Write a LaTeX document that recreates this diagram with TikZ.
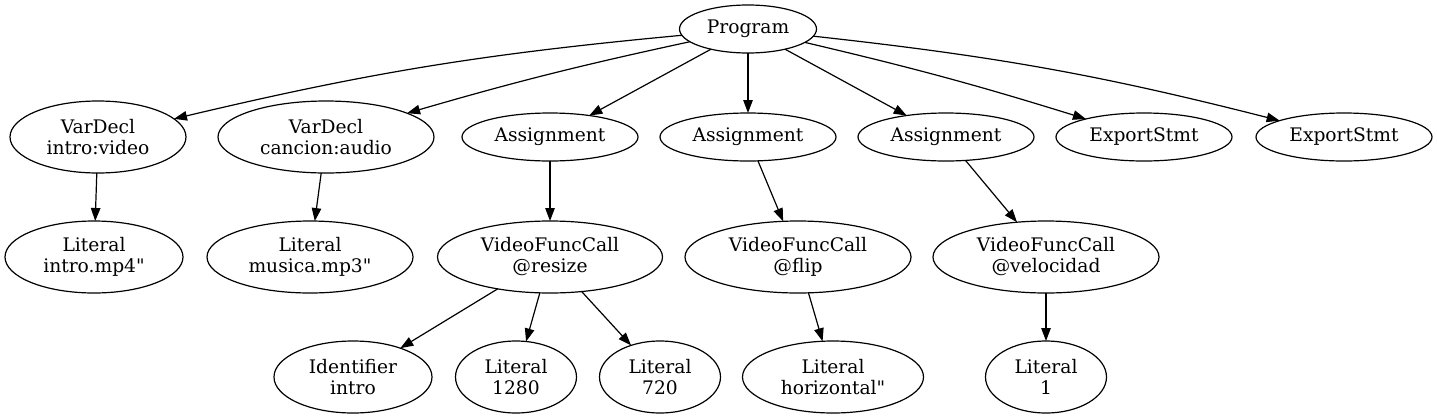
\documentclass[tikz,border=0pt]{standalone}
\usepackage{fontspec}
\setmainfont{DejaVu Serif}[Ligatures=TeXOff]
\usetikzlibrary{positioning,arrows.meta,shapes.geometric}

\begin{document}
\begin{tikzpicture}[
  x=1pt, y=-1pt,
  every node/.style={font=\fontsize{18.67}{21}\selectfont},
  ast/.style={draw,ellipse,line width=1.2pt,inner sep=0pt,outer sep=0pt,align=center},
  one/.style={ast,minimum width=#1pt,minimum height=48pt},
  two/.style={ast,minimum width=#1pt,minimum height=72pt},
  arr/.style={-{Triangle[length=13pt,width=9.5pt]},line width=1.2pt}
]
\useasboundingbox (0,0) rectangle (1437,418);

% first rank
\node[two=176] (decl1) at (98,137) {VarDecl\\intro:video};
\node[two=216, right=32pt of decl1] (decl2) {VarDecl\\cancion:audio};
\node[one=176, right=28pt of decl2] (asg1) {Assignment};
\node[one=176, right=22pt of asg1] (asg2) {Assignment};
\node[one=176, right=22pt of asg2] (asg3) {Assignment};
\node[one=176, right=22pt of asg3] (exp1) {ExportStmt};
\node[one=176, right=24pt of exp1] (exp2) {ExportStmt};
\node[one=137, above=60pt of asg2] (prog) {Program};

% second rank
\node[two=178, below=48pt of decl1, xshift=-4pt] (lit1) {Literal\\intro.mp4"};
\node[two=206, below=48pt of decl2, xshift=-16pt] (lit2) {Literal\\musica.mp3"};
\node[two=225, below=60pt of asg1] (call1) {VideoFuncCall\\@resize};
\node[two=226, below=60pt of asg2, xshift=50pt] (call2) {VideoFuncCall\\@flip};
\node[two=226, below=60pt of asg3, xshift=100pt] (call3) {VideoFuncCall\\@velocidad};

% third rank
\node[two=158, below=48pt of call1, xshift=-197pt] (id1) {Identifier\\intro};
\node[two=121, below=48pt of call1, xshift=-34pt] (num1) {Literal\\1280};
\node[two=121, below=48pt of call1, xshift=110pt] (num2) {Literal\\720};
\node[two=181, below=48pt of call2, xshift=35pt] (lithz) {Literal\\horizontal"};
\node[two=121, below=48pt of call3] (num3) {Literal\\1};

\draw[arr] (prog) to[bend right=4] (decl1);
\draw[arr] (prog) to[bend right=2] (decl2);
\draw[arr] (prog) -- (asg1);
\draw[arr] (prog) -- (asg2);
\draw[arr] (prog) -- (asg3);
\draw[arr] (prog) to[bend left=2] (exp1);
\draw[arr] (prog) to[bend left=4] (exp2);

\draw[arr] (decl1) -- (lit1);
\draw[arr] (decl2) -- (lit2);
\draw[arr] (asg1) -- (call1);
\draw[arr] (asg2) -- (call2);
\draw[arr] (asg3) -- (call3);

\draw[arr] (call1) -- (id1);
\draw[arr] (call1) -- (num1);
\draw[arr] (call1) -- (num2);
\draw[arr] (call2) -- (lithz);
\draw[arr] (call3) -- (num3);
\end{tikzpicture}
\end{document}
